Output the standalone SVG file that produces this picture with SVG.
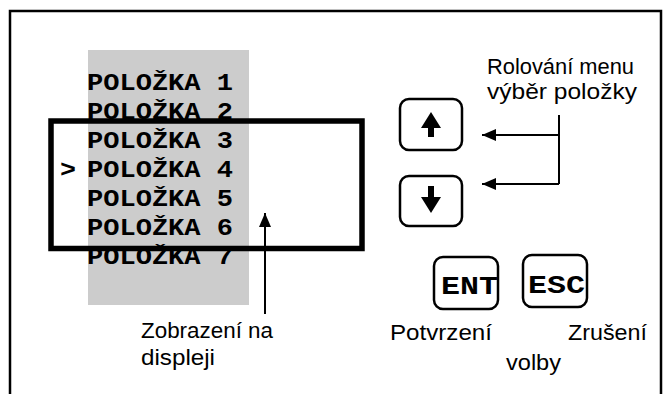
<svg xmlns="http://www.w3.org/2000/svg" width="669" height="394" viewBox="0 0 669 394">
<defs>
<style>
.mono{font-family:"Liberation Mono","DejaVu Sans Mono",monospace;font-weight:bold;fill:#000}
.item{font-size:23px}
.key{font-size:25px}
.hand{font-family:"Liberation Sans","DejaVu Sans",sans-serif;font-size:22px;fill:#000}
.btn{fill:#fff;stroke:#000;stroke-width:2.5}
.line{fill:none;stroke:#000;stroke-width:2}
</style>
<marker id="ah" viewBox="0 0 14 12" refX="14" refY="6" markerWidth="14" markerHeight="12" markerUnits="userSpaceOnUse" orient="auto">
<path d="M0,0 L14,6 L0,12 Z" fill="#000"/>
</marker>
</defs>
<rect width="669" height="394" fill="#fff"/>
<rect id="frame" x="10" y="11" width="651" height="400" fill="none" stroke="#000" stroke-width="2.5"/>
<g id="menu-list">
<rect x="88" y="50" width="161" height="255" fill="#cccccc"/>
<text class="mono item" x="87" y="90" textLength="146" lengthAdjust="spacingAndGlyphs">POLOŽKA 1</text>
<text class="mono item" x="87" y="119" textLength="146" lengthAdjust="spacingAndGlyphs">POLOŽKA 2</text>
<text class="mono item" x="87" y="148" textLength="146" lengthAdjust="spacingAndGlyphs">POLOŽKA 3</text>
<text class="mono item" x="60" y="177" textLength="16" lengthAdjust="spacingAndGlyphs">&gt;</text>
<text class="mono item" x="87" y="177" textLength="146" lengthAdjust="spacingAndGlyphs">POLOŽKA 4</text>
<text class="mono item" x="87" y="206" textLength="146" lengthAdjust="spacingAndGlyphs">POLOŽKA 5</text>
<text class="mono item" x="87" y="235" textLength="146" lengthAdjust="spacingAndGlyphs">POLOŽKA 6</text>
<text class="mono item" x="87" y="264" textLength="146" lengthAdjust="spacingAndGlyphs">POLOŽKA 7</text>
</g>
<g id="display-window">
<rect x="51" y="121" width="311" height="127.5" fill="none" stroke="#000" stroke-width="5.5"/>
</g>
<g id="btn-up">
<rect class="btn" x="400" y="99" width="62" height="51" rx="9"/>
<path d="M431,112 L441,128 L434,128 L434,137 L428,137 L428,128 L421,128 Z" fill="#000"/>
</g>
<g id="btn-down">
<rect class="btn" x="400" y="176" width="62" height="50" rx="9"/>
<path d="M431,213 L441,197 L434,197 L434,186 L428,186 L428,197 L421,197 Z" fill="#000"/>
</g>
<g id="btn-ent">
<rect class="btn" x="434" y="257" width="64" height="52" rx="9"/>
<text class="mono key" x="441" y="294" textLength="57" lengthAdjust="spacingAndGlyphs">ENT</text>
</g>
<g id="btn-esc">
<rect class="btn" x="523" y="255" width="64" height="52" rx="9"/>
<text class="mono key" x="528" y="293" textLength="57" lengthAdjust="spacingAndGlyphs">ESC</text>
</g>
<g id="label-scroll">
<text class="hand" x="487" y="74" textLength="147" lengthAdjust="spacingAndGlyphs">Rolování menu</text>
<text class="hand" x="487" y="99" textLength="150" lengthAdjust="spacingAndGlyphs">výběr položky</text>
</g>
<g id="label-display">
<text class="hand" x="141" y="338" textLength="132" lengthAdjust="spacingAndGlyphs">Zobrazení na</text>
<text class="hand" x="141" y="365" textLength="74" lengthAdjust="spacingAndGlyphs">displeji</text>
</g>
<g id="label-confirm">
<text class="hand" x="390" y="340" textLength="102" lengthAdjust="spacingAndGlyphs">Potvrzení</text>
</g>
<g id="label-cancel">
<text class="hand" x="568" y="340" textLength="79" lengthAdjust="spacingAndGlyphs">Zrušení</text>
</g>
<g id="label-volby">
<text class="hand" x="506" y="370" textLength="55" lengthAdjust="spacingAndGlyphs">volby</text>
</g>
<g id="connectors">
<path class="line" d="M559,115 L559,184"/>
<path class="line" d="M559,135 L482,135" marker-end="url(#ah)"/>
<path class="line" d="M559,184 L482,184" marker-end="url(#ah)"/>
<path class="line" d="M265,314 L265,213" marker-end="url(#ah)"/>
</g>
</svg>
